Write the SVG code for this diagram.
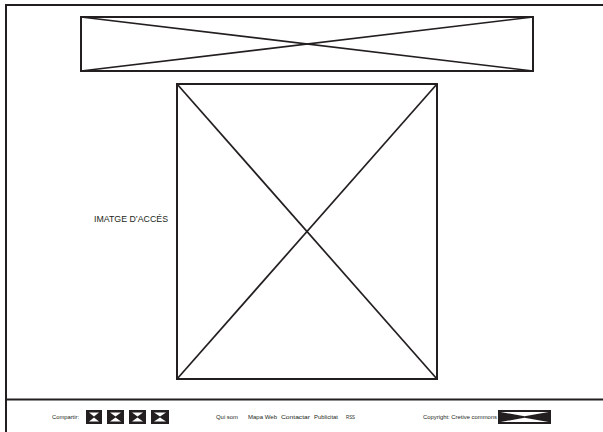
<svg xmlns="http://www.w3.org/2000/svg" width="603" height="432" viewBox="0 0 603 432">
<style>
.ln{stroke:#231f20;fill:none;stroke-width:2}
.dg{stroke:#231f20;fill:none;stroke-width:1.7}
.t{font-family:"Liberation Sans",Arial,sans-serif;fill:#231f20}
.f{font-size:6px}
.ic{fill:#231f20}
.wt{fill:#fff}
</style>
<rect width="603" height="432" fill="#fff"/>
<g id="frame">
<line class="ln" x1="5" y1="5" x2="603" y2="5"/>
<line class="ln" x1="6" y1="4" x2="6" y2="432" stroke-width="2.5"/>
<line class="ln" x1="6" y1="399.5" x2="603" y2="399.5"/>
</g>
<g id="banner">
<rect class="ln" x="81" y="17" width="452" height="54"/>
<line class="dg" x1="81" y1="17" x2="533" y2="71"/>
<line class="dg" x1="81" y1="71" x2="533" y2="17"/>
</g>
<g id="imatge">
<rect class="ln" x="177" y="84" width="260" height="295"/>
<line class="dg" x1="177" y1="84" x2="437" y2="379"/>
<line class="dg" x1="177" y1="379" x2="437" y2="84"/>
<text class="t" x="94" y="222" font-size="9" textLength="74" lengthAdjust="spacingAndGlyphs">IMATGE D’ACCÉS</text>
</g>
<g id="compartir">
<text class="t f" x="52" y="419" textLength="27" lengthAdjust="spacingAndGlyphs">Compartir:</text>
<g id="icon1"><rect class="ic" x="86" y="410" width="16" height="14"/><polygon class="wt" points="89,412.5 99,412.5 94,416.5"/><polygon class="wt" points="89,421.5 99,421.5 94,417.5"/></g>
<g id="icon2"><rect class="ic" x="107" y="410" width="17" height="14"/><polygon class="wt" points="110,412.5 121,412.5 115.5,416.5"/><polygon class="wt" points="110,421.5 121,421.5 115.5,417.5"/></g>
<g id="icon3"><rect class="ic" x="129" y="410" width="17" height="14"/><polygon class="wt" points="132,412.5 143,412.5 137.5,416.5"/><polygon class="wt" points="132,421.5 143,421.5 137.5,417.5"/></g>
<g id="icon4"><rect class="ic" x="151" y="410" width="18" height="14"/><polygon class="wt" points="154,412.5 166,412.5 160,416.5"/><polygon class="wt" points="154,421.5 166,421.5 160,417.5"/></g>
</g>
<g id="menu">
<text class="t f" x="216" y="419" textLength="22" lengthAdjust="spacingAndGlyphs">Qui som</text>
<text class="t f" x="248" y="419" textLength="29" lengthAdjust="spacingAndGlyphs">Mapa Web</text>
<text class="t f" x="281" y="419" textLength="29" lengthAdjust="spacingAndGlyphs">Contactar</text>
<text class="t f" x="314" y="419" textLength="24" lengthAdjust="spacingAndGlyphs">Publicitat</text>
<text class="t f" x="346" y="419" textLength="9" lengthAdjust="spacingAndGlyphs">RSS</text>
</g>
<g id="copyright">
<text class="t f" x="423" y="419" textLength="74" lengthAdjust="spacingAndGlyphs">Copyright: Cretive commons</text>
<rect class="ic" x="498" y="410" width="53" height="14"/>
<polygon class="wt" points="500.5,412 548.5,412 524.5,416.3"/>
<polygon class="wt" points="500.5,422 548.5,422 524.5,417.7"/>
</g>
</svg>
